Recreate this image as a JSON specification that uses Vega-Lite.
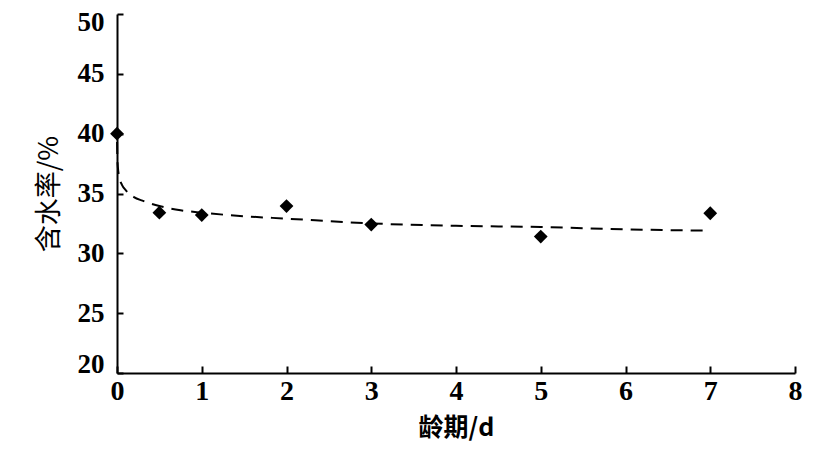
{
  "$schema": "https://vega.github.io/schema/vega-lite/v6.json",
  "autosize": "none",
  "width": 678,
  "height": 359,
  "padding": {"left": 117, "top": 14, "right": 34, "bottom": 82},
  "background": "white",
  "config": {
    "view": {"stroke": null},
    "font": "Liberation Serif, Noto Sans CJK SC"
  },
  "datasets": {
    "pts": [
      {"age": 0, "water": 40.0},
      {"age": 0.5, "water": 33.4},
      {"age": 1, "water": 33.2},
      {"age": 2, "water": 33.95},
      {"age": 3, "water": 32.4},
      {"age": 5, "water": 31.4},
      {"age": 7, "water": 33.35}
    ],
    "trend": [
      {"age": 0.001, "water": 39.3},
      {"age": 0.003, "water": 38.3},
      {"age": 0.01, "water": 37.2},
      {"age": 0.03, "water": 36.3},
      {"age": 0.06, "water": 35.7},
      {"age": 0.1, "water": 35.3},
      {"age": 0.2, "water": 34.7},
      {"age": 0.3, "water": 34.4},
      {"age": 0.5, "water": 33.95},
      {"age": 0.75, "water": 33.6},
      {"age": 1, "water": 33.4},
      {"age": 1.5, "water": 33.1},
      {"age": 2, "water": 32.9},
      {"age": 3, "water": 32.5},
      {"age": 4, "water": 32.3},
      {"age": 5, "water": 32.2},
      {"age": 6, "water": 32.0},
      {"age": 7, "water": 31.9}
    ]
  },
  "layer": [
    {
      "data": {"name": "trend"},
      "mark": {"type": "line", "color": "black", "strokeWidth": 2, "strokeDash": [12, 8], "interpolate": "monotone"},
      "encoding": {
        "x": {
          "field": "age", "type": "quantitative",
          "scale": {"domain": [0, 8], "nice": false},
          "axis": {
            "title": "龄期/d", "values": [0,1,2,3,4,5,6,7,8], "format": "d", "grid": false, "labelFlush": false,
            "domainColor": "black", "domainWidth": 2, "tickColor": "black", "tickWidth": 2, "tickSize": -7,
            "labelFont": "Liberation Serif", "labelFontSize": 28, "labelFontWeight": "bold", "labelColor": "black", "labelPadding": 11,
            "titleFont": "Noto Sans CJK SC", "titleFontSize": 25, "titleFontWeight": "bold", "titleColor": "black", "titlePadding": 10
          }
        },
        "y": {
          "field": "water", "type": "quantitative",
          "scale": {"domain": [20, 50], "nice": false},
          "axis": {
            "title": "含水率/%", "values": [20,25,30,35,40,45,50], "grid": false, "labelFlush": true, "labelFlushOffset": 5,
            "domainColor": "black", "domainWidth": 2, "tickColor": "black", "tickWidth": 2, "tickSize": -6,
            "labelFont": "Liberation Serif", "labelFontSize": 27, "labelFontWeight": "bold", "labelColor": "black", "labelPadding": 19,
            "titleFont": "Noto Sans CJK SC", "titleFontSize": 27, "titleFontWeight": "normal", "titleColor": "black", "titlePadding": 14
          }
        }
      }
    },
    {
      "data": {"name": "pts"},
      "mark": {"type": "point", "shape": "diamond", "filled": true, "color": "black", "opacity": 1, "size": 190},
      "encoding": {
        "x": {"field": "age", "type": "quantitative"},
        "y": {"field": "water", "type": "quantitative"}
      }
    }
  ]
}
